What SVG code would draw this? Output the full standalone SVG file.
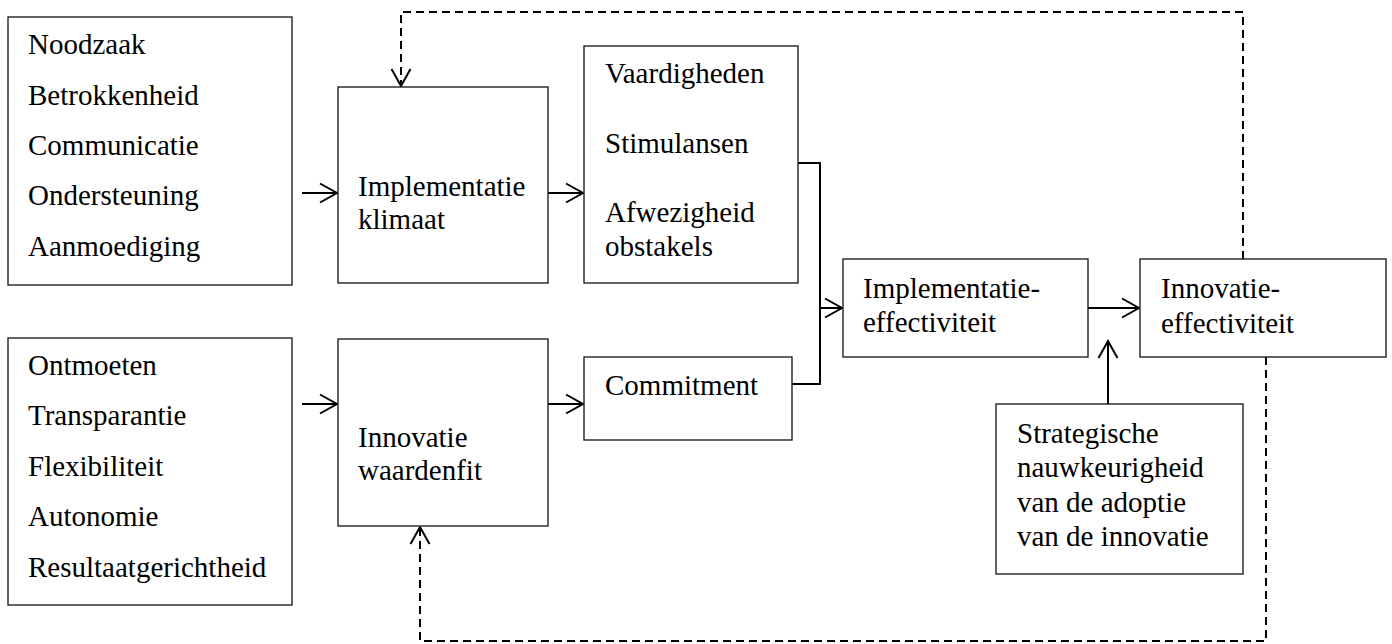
<svg xmlns="http://www.w3.org/2000/svg" width="1392" height="644" viewBox="0 0 1392 644">
<style>
.box{fill:#fff;stroke:#222;stroke-width:1.4}
.t{font-family:"Liberation Serif","Times New Roman",serif;font-size:29px;fill:#000}
.c{fill:none;stroke:#000;stroke-width:2}
.d{fill:none;stroke:#000;stroke-width:2;stroke-dasharray:8 5}
</style>
<defs>
<marker id="ah" markerUnits="userSpaceOnUse" markerWidth="20" markerHeight="22" refX="17" refY="10" orient="auto" overflow="visible">
<path d="M0,0.5 L17,10 L0,19.5" fill="none" stroke="#000" stroke-width="2"/>
</marker>
</defs>
<rect width="1392" height="644" fill="#fff"/>
<g id="connectors">
<line class="c" x1="302" y1="193" x2="337" y2="193" marker-end="url(#ah)"/>
<line class="c" x1="548" y1="193" x2="583" y2="193" marker-end="url(#ah)"/>
<line class="c" x1="302" y1="404" x2="337" y2="404" marker-end="url(#ah)"/>
<line class="c" x1="548" y1="404" x2="583" y2="404" marker-end="url(#ah)"/>
<polyline class="c" points="798,163 820,163 820,384 792,384"/>
<line class="c" x1="820" y1="308" x2="842" y2="308" marker-end="url(#ah)"/>
<line class="c" x1="1088" y1="308" x2="1139" y2="308" marker-end="url(#ah)"/>
<line class="c" x1="1108" y1="404" x2="1108" y2="341" marker-end="url(#ah)"/>
<polyline class="d" points="1243,259 1243,12 401,12 401,86" marker-end="url(#ah)"/>
<polyline class="d" points="1266,357 1266,641 420,641 420,527" marker-end="url(#ah)"/>
</g>
<g id="n-klimaat-factoren">
<rect class="box" x="8" y="17" width="284" height="268"/>
<text class="t" x="28" y="54">Noodzaak</text>
<text class="t" x="28" y="105">Betrokkenheid</text>
<text class="t" x="28" y="155">Communicatie</text>
<text class="t" x="28" y="205">Ondersteuning</text>
<text class="t" x="28" y="256">Aanmoediging</text>
</g>
<g id="n-waarden-factoren">
<rect class="box" x="8" y="338" width="284" height="267"/>
<text class="t" x="28" y="375">Ontmoeten</text>
<text class="t" x="28" y="425">Transparantie</text>
<text class="t" x="28" y="476">Flexibiliteit</text>
<text class="t" x="28" y="526">Autonomie</text>
<text class="t" x="28" y="577">Resultaatgerichtheid</text>
</g>
<g id="n-implementatieklimaat">
<rect class="box" x="338" y="87" width="210" height="196"/>
<text class="t" x="358" y="196">Implementatie</text>
<text class="t" x="358" y="229">klimaat</text>
</g>
<g id="n-waardenfit">
<rect class="box" x="338" y="339" width="210" height="187"/>
<text class="t" x="358" y="447">Innovatie</text>
<text class="t" x="358" y="480">waardenfit</text>
</g>
<g id="n-vaardigheden">
<rect class="box" x="584" y="46" width="214" height="237"/>
<text class="t" x="605" y="83">Vaardigheden</text>
<text class="t" x="605" y="153">Stimulansen</text>
<text class="t" x="605" y="222">Afwezigheid</text>
<text class="t" x="605" y="256">obstakels</text>
</g>
<g id="n-commitment">
<rect class="box" x="584" y="357" width="208" height="83"/>
<text class="t" x="605" y="395">Commitment</text>
</g>
<g id="n-impl-eff">
<rect class="box" x="843" y="259" width="245" height="98"/>
<text class="t" x="863" y="298">Implementatie-</text>
<text class="t" x="863" y="332">effectiviteit</text>
</g>
<g id="n-innov-eff">
<rect class="box" x="1140" y="259" width="246" height="98"/>
<text class="t" x="1161" y="298">Innovatie-</text>
<text class="t" x="1161" y="333">effectiviteit</text>
</g>
<g id="n-strategisch">
<rect class="box" x="996" y="404" width="247" height="170"/>
<text class="t" x="1017" y="443">Strategische</text>
<text class="t" x="1017" y="477">nauwkeurigheid</text>
<text class="t" x="1017" y="512">van de adoptie</text>
<text class="t" x="1017" y="546">van de innovatie</text>
</g>
</svg>
